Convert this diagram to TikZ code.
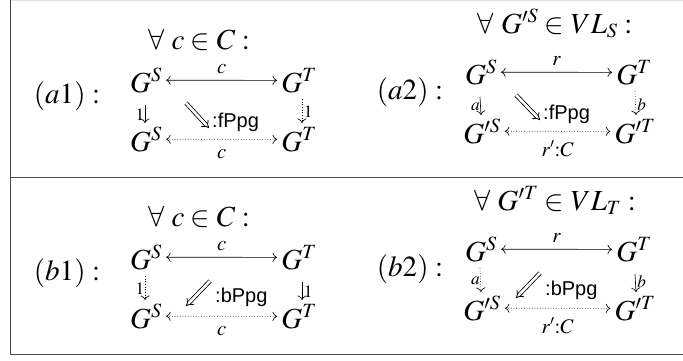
\documentclass[tikz,border=0pt]{standalone}
\usepackage{mathptmx}
\usepackage{fontspec}
\setmainfont{Liberation Serif}
\setsansfont{Liberation Sans}
\usetikzlibrary{arrows.meta}
\newcommand{\Mx}[1]{\scalebox{1.17}{$#1$}}
\begin{document}
\begin{tikzpicture}[x=1pt,y=-1pt,
  every node/.style={inner sep=1pt},
  big/.style={font=\fontsize{24.88}{30}\selectfont, anchor=base},
  small/.style={font=\fontsize{20.74}{24}\selectfont},
  vlab/.style={font=\fontsize{17.28}{20}\selectfont, inner sep=0.5pt},
  sflab/.style={font=\fontsize{20}{23}\selectfont\sffamily, anchor=base west},
  sarr/.style={-{Computer Modern Rightarrow[length=4.5pt,width=9pt]}, line width=0.65pt},
  darr/.style={sarr, dotted},
  biarr/.style={{Computer Modern Rightarrow[length=4.5pt,width=9pt]}-{Computer Modern Rightarrow[length=4.5pt,width=9pt]}, line width=0.65pt, shorten <=3pt, shorten >=3pt},
  dbiarr/.style={biarr, dotted},
  dblarr/.style={double, double distance=2.6pt, line width=0.8pt, -{Implies}},
  rulestyle/.style={line width=0.9pt, black!70},
]
\useasboundingbox (0,0) rectangle (683,360);
% table rules
\coordinate (tl) at (10.5,0);
\coordinate (tlb) at (10.5,0.5);
\coordinate (tr) at (683,0.5);
\coordinate (ml) at (10.5,177.5);
\coordinate (mr) at (683,177.5);
\coordinate (bl) at (10.5,354.5);
\coordinate (br) at (683,354.5);
\draw[line width=0.6pt, black!12] (tlb) -- (tr);
\draw[rulestyle] (tl) -- (bl);
\draw[rulestyle] (ml) -- (mr);
\draw[rulestyle] (bl) -- (br);

% ---------- panel a1 ----------
\node[big] (a1lab) at (67,103) {\Mx{(a1):}};
\node[big] (a1tit) at (199,49) {\Mx{\forall\ c\in C:}};
\node[big] (a1gs) at (146,92) {\Mx{G^S}};
\node[big] (a1gt) at (299,92) {\Mx{G^T}};
\node[big] (a1gsb) at (146,151) {\Mx{G^S}};
\node[big] (a1gtb) at (299,151) {\Mx{G^T}};
\draw[biarr] (a1gs) -- node[small, above=5pt] (a1c) {$c$} (a1gt);
\draw[dbiarr] (a1gsb) -- node[small, below=9pt] (a1cb) {$c$} (a1gtb);
\draw[sarr] ([xshift=-1pt,yshift=-13pt]a1gs.base) -- node[vlab, left, pos=0.55] (a1one) {$1$} ([xshift=-1pt,yshift=28pt]a1gsb.base);
\draw[darr] ([xshift=3pt,yshift=-7pt]a1gt.base) -- node[vlab, right=1pt, pos=0.55] (a1oner) {$1$} ([xshift=3pt,yshift=28pt]a1gtb.base);
\coordinate (a1p) at (186,103);
\coordinate (a1q) at (209,128);
\node[sflab] (a1f) at (211,127) {:fPpg};
\draw[dblarr] (a1p) -- (a1q);

% ---------- panel a2 ----------
\node[big] (a2lab) at (410,99) {\Mx{(a2):}};
\node[big] (a2tit) at (555,33) {\Mx{\forall\ G'^S\in VL_S:}};
\node[big] (a2gs) at (481,84) {\Mx{G^S}};
\node[big] (a2gt) at (634,84) {\Mx{G^T}};
\node[big] (a2gsb) at (482,143) {\Mx{G'^S}};
\node[big] (a2gtb) at (635,143) {\Mx{G'^T}};
\draw[biarr] (a2gs) -- node[small, above=5pt] (a2r) {$r$} (a2gt);
\draw[dbiarr] (a2gsb) -- node[small, below=8pt] (a2rc) {$r'{:}C$} (a2gtb);
\draw[sarr] ([xshift=-1pt,yshift=-13pt]a2gs.base) -- node[vlab, left, pos=0.55] (a2a) {$a$} ([xshift=-1pt,yshift=28pt]a2gsb.base);
\draw[darr] ([xshift=1pt,yshift=-7pt]a2gt.base) -- node[vlab, right=1pt, pos=0.55] (a2b) {$b$} ([xshift=1pt,yshift=28pt]a2gtb.base);
\coordinate (a2p) at (516,95);
\coordinate (a2q) at (540,120);
\node[sflab] (a2f) at (542,119) {:fPpg};
\draw[dblarr] (a2p) -- (a2q);

% ---------- panel b1 ----------
\node[big] (b1lab) at (67,280) {\Mx{(b1):}};
\node[big] (b1tit) at (199,226) {\Mx{\forall\ c\in C:}};
\node[big] (b1gs) at (146,269) {\Mx{G^S}};
\node[big] (b1gt) at (299,269) {\Mx{G^T}};
\node[big] (b1gsb) at (146,328) {\Mx{G^S}};
\node[big] (b1gtb) at (299,328) {\Mx{G^T}};
\draw[biarr] (b1gs) -- node[small, above=5pt] (b1c) {$c$} (b1gt);
\draw[dbiarr] (b1gsb) -- node[small, below=9pt] (b1cb) {$c$} (b1gtb);
\draw[darr] ([xshift=-1pt,yshift=-7pt]b1gs.base) -- node[vlab, left, pos=0.55] (b1one) {$1$} ([xshift=-1pt,yshift=28pt]b1gsb.base);
\draw[sarr] ([xshift=3pt,yshift=-13pt]b1gt.base) -- node[vlab, right=1pt, pos=0.55] (b1oner) {$1$} ([xshift=3pt,yshift=28pt]b1gtb.base);
\coordinate (b1p) at (210,281);
\coordinate (b1q) at (186,306);
\node[sflab] (b1f) at (214,302) {:bPpg};
\draw[dblarr] (b1p) -- (b1q);

% ---------- panel b2 ----------
\node[big] (b2lab) at (410,276) {\Mx{(b2):}};
\node[big] (b2tit) at (555,210) {\Mx{\forall\ G'^T\in VL_T:}};
\node[big] (b2gs) at (481,261) {\Mx{G^S}};
\node[big] (b2gt) at (634,261) {\Mx{G^T}};
\node[big] (b2gsb) at (482,320) {\Mx{G'^S}};
\node[big] (b2gtb) at (635,320) {\Mx{G'^T}};
\draw[biarr] (b2gs) -- node[small, above=5pt] (b2r) {$r$} (b2gt);
\draw[dbiarr] (b2gsb) -- node[small, below=8pt] (b2rc) {$r'{:}C$} (b2gtb);
\draw[darr] ([xshift=-1pt,yshift=-7pt]b2gs.base) -- node[vlab, left, pos=0.55] (b2a) {$a$} ([xshift=-1pt,yshift=28pt]b2gsb.base);
\draw[sarr] ([xshift=1pt,yshift=-13pt]b2gt.base) -- node[vlab, right=1pt, pos=0.45] (b2b) {$b$} ([xshift=1pt,yshift=28pt]b2gtb.base);
\coordinate (b2p) at (540,273);
\coordinate (b2q) at (516,298);
\node[sflab] (b2f) at (544,295) {:bPpg};
\draw[dblarr] (b2p) -- (b2q);
\end{tikzpicture}
\end{document}
